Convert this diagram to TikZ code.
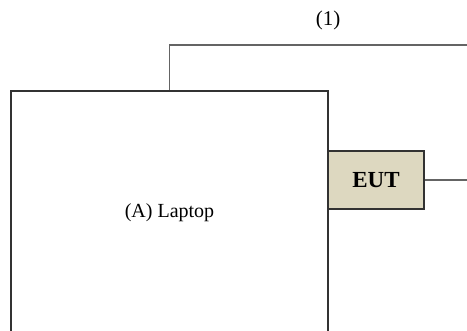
\documentclass[tikz,border=0pt]{standalone}
\usepackage{fontspec}
\setmainfont{Liberation Serif}
\definecolor{eutfill}{RGB}{221,216,192}
\definecolor{edgegray}{RGB}{50,50,50}
\definecolor{wiregray}{RGB}{100,100,100}
\tikzset{
  unitbox/.style={draw=edgegray,line width=1.5pt,inner sep=0pt},
  wire/.style={draw=wiregray,line width=1.8pt}
}
\begin{document}
\begin{tikzpicture}[x=1pt,y=-1pt,line cap=butt]
  \useasboundingbox (0,0) rectangle (467,331);
  \clip (0,0) rectangle (467,331);
  % laptop and equipment under test
  \node[unitbox,minimum width=317pt,minimum height=244pt,font=\fontsize{20}{24}\selectfont] (laptop) at (169.5,213) {(A) Laptop};
  \node[unitbox,fill=eutfill,minimum width=96pt,minimum height=58pt,font=\fontsize{23}{27}\selectfont\bfseries] (eut) at (376,180) {EUT};
  % cables
  \coordinate (eutend) at (470,180);
  \coordinate (topend) at (470,45);
  \draw[wire] (eut.east) -- (eutend);
  \draw[wire] (laptop.north) |- (topend);
  \node[font=\fontsize{21}{25}\selectfont] (cablelabel) at (328,20) {(1)};
\end{tikzpicture}
\end{document}
